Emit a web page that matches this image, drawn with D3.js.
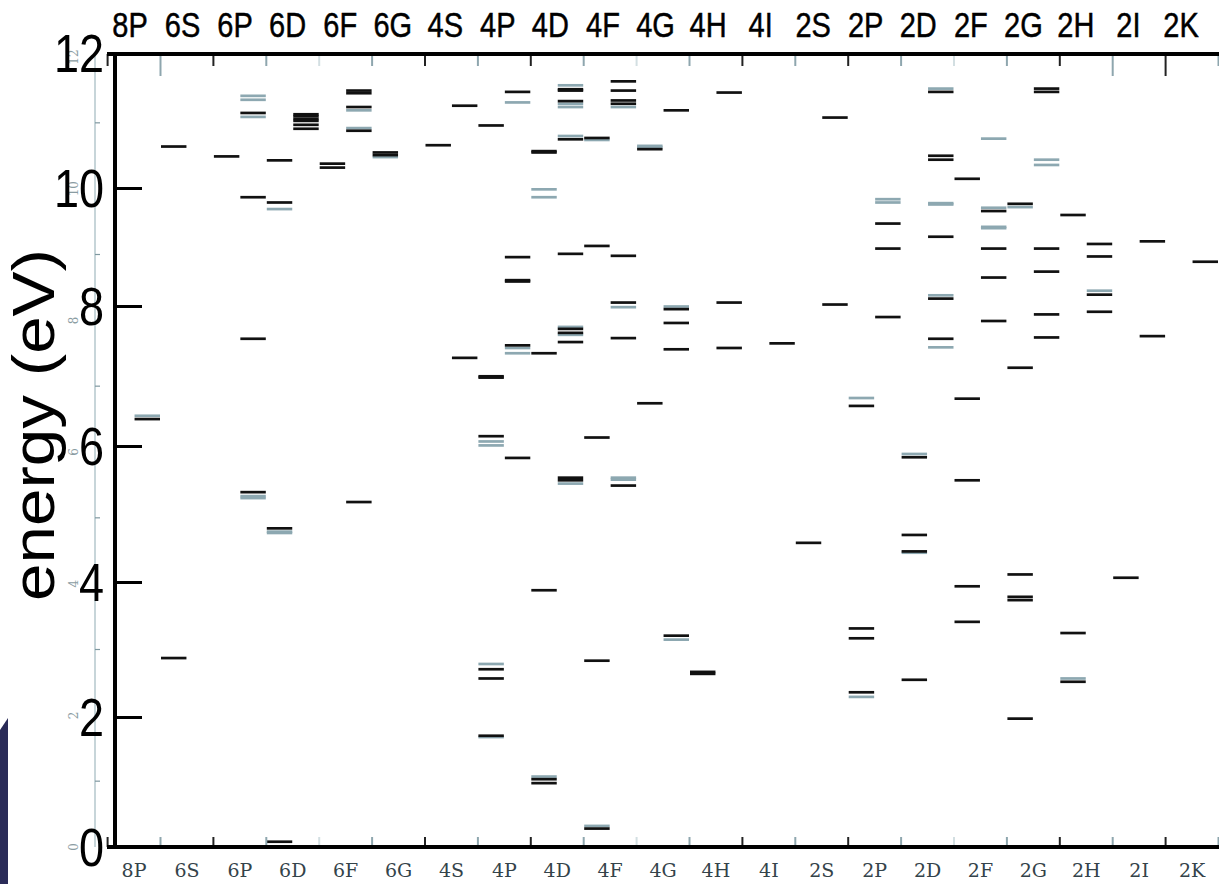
<!DOCTYPE html>
<html>
<head>
<meta charset="utf-8">
<script src="https://cdn.jsdelivr.net/npm/d3@7"></script>
<style>
  body { margin: 0; background: #fff; }
</style>
</head>
<body>
<svg id="chart" width="1219" height="884"></svg>
<script>
const categories = ['8P','6S','6P','6D','6F','6G','4S','4P','4D','4F','4G','4H','4I',
                    '2S','2P','2D','2F','2G','2H','2I','2K']
const energyTicks = [0, 2, 4, 6, 8, 10, 12]

// [term, sub-column, energy eV]  dark levels
const darkLevels = [
  ['8P','R',6.50],
  ['6S','L',10.64], ['6S','L',2.87],
  ['6P','L',10.49],
  ['6P','R',11.15], ['6P','R',9.87], ['6P','R',7.72], ['6P','R',5.39],
  ['6D','L',10.43], ['6D','L',9.79], ['6D','L',4.84], ['6D','L',0.08],
  ['6D','R',11.13], ['6D','R',11.10], ['6D','R',11.06], ['6D','R',11.03], ['6D','R',10.97], ['6D','R',10.91],
  ['6F','L',10.38], ['6F','L',10.32],
  ['6F','R',11.49], ['6F','R',11.45], ['6F','R',11.24], ['6F','R',10.88], ['6F','R',5.24],
  ['6G','L',10.55], ['6G','L',10.51],
  ['4S','L',10.66],
  ['4S','R',11.26], ['4S','R',7.43],
  ['4P','L',10.96], ['4P','L',7.15], ['4P','L',7.13], ['4P','L',6.24], ['4P','L',2.70], ['4P','L',2.56], ['4P','L',1.69],
  ['4P','R',11.47], ['4P','R',8.96], ['4P','R',8.61], ['4P','R',8.59], ['4P','R',7.62], ['4P','R',5.91],
  ['4D','L',10.57], ['4D','L',10.55], ['4D','L',7.50], ['4D','L',3.90], ['4D','L',1.03], ['4D','L',0.97],
  ['4D','R',11.51], ['4D','R',11.49], ['4D','R',11.33], ['4D','R',10.75], ['4D','R',9.01], ['4D','R',7.87],
  ['4D','R',7.81], ['4D','R',7.67], ['4D','R',5.61], ['4D','R',5.57],
  ['4F','L',10.77], ['4F','L',9.13], ['4F','L',6.22], ['4F','L',2.83], ['4F','L',0.28],
  ['4F','R',11.63], ['4F','R',11.49], ['4F','R',11.34], ['4F','R',11.29], ['4F','R',8.98], ['4F','R',8.27],
  ['4F','R',7.73], ['4F','R',5.49],
  ['4G','L',10.60], ['4G','L',6.74],
  ['4G','R',11.19], ['4G','R',8.17], ['4G','R',7.96], ['4G','R',7.56], ['4G','R',3.21],
  ['4H','L',2.66], ['4H','L',2.63],
  ['4H','R',11.46], ['4H','R',8.27], ['4H','R',7.58],
  ['4I','R',7.65],
  ['2S','L',4.62],
  ['2S','R',11.08], ['2S','R',8.24],
  ['2P','L',6.70], ['2P','L',3.32], ['2P','L',3.17], ['2P','L',2.35],
  ['2P','R',9.47], ['2P','R',9.09], ['2P','R',8.05],
  ['2D','L',5.92], ['2D','L',4.74], ['2D','L',4.49], ['2D','L',2.54],
  ['2D','R',11.47], ['2D','R',10.50], ['2D','R',10.44], ['2D','R',9.27], ['2D','R',8.33], ['2D','R',7.72],
  ['2F','L',10.15], ['2F','L',6.81], ['2F','L',5.57], ['2F','L',3.96], ['2F','L',3.42],
  ['2F','R',9.66], ['2F','R',9.09], ['2F','R',8.65], ['2F','R',7.99],
  ['2G','L',9.77], ['2G','L',7.28], ['2G','L',4.14], ['2G','L',3.80], ['2G','L',3.75], ['2G','L',1.95],
  ['2G','R',11.52], ['2G','R',11.47], ['2G','R',9.09], ['2G','R',8.74], ['2G','R',8.09], ['2G','R',7.74],
  ['2H','L',9.60], ['2H','L',3.25], ['2H','L',2.51],
  ['2H','R',9.16], ['2H','R',8.97], ['2H','R',8.39], ['2H','R',8.13],
  ['2I','L',4.09],
  ['2I','R',9.20], ['2I','R',7.76],
  ['2K','R',8.89]
]

// light (grey-blue) levels
const lightLevels = [
  ['8P','R',6.55],
  ['6P','R',11.41], ['6P','R',11.35], ['6P','R',11.09], ['6P','R',5.33], ['6P','R',5.30],
  ['6D','L',9.69], ['6D','L',4.79], ['6D','L',4.77],
  ['6F','R',11.19], ['6F','R',10.92],
  ['6G','L',10.48],
  ['4P','L',6.16], ['4P','L',6.10], ['4P','L',2.78], ['4P','L',1.67],
  ['4P','R',11.31], ['4P','R',7.58], ['4P','R',7.50],
  ['4D','L',9.99], ['4D','L',9.87], ['4D','L',1.07],
  ['4D','R',11.57], ['4D','R',11.29], ['4D','R',11.24], ['4D','R',10.80], ['4D','R',7.90], ['4D','R',7.78], ['4D','R',5.52],
  ['4F','L',10.74], ['4F','L',0.32],
  ['4F','R',11.24], ['4F','R',8.20], ['4F','R',5.61], ['4F','R',5.58],
  ['4G','L',10.65], ['4G','L',10.63],
  ['4G','R',8.21], ['4G','R',3.15],
  ['2P','L',6.82], ['2P','L',2.28],
  ['2P','R',9.84], ['2P','R',9.79],
  ['2D','L',5.97], ['2D','L',4.47],
  ['2D','R',11.52], ['2D','R',9.78], ['2D','R',9.76], ['2D','R',8.38], ['2D','R',7.59],
  ['2F','R',10.76], ['2F','R',9.71], ['2F','R',9.42], ['2F','R',9.40],
  ['2G','L',9.72],
  ['2G','R',10.44], ['2G','R',10.36],
  ['2H','L',2.56],
  ['2H','R',8.45]
]

const width = 1219
const height = 884
const axisX = 115

const svg = d3.select('#chart')

svg.append('rect').attr('width', width).attr('height', height).attr('fill', '#fff')

// dark strip at lower left edge
svg.append('path')
  .attr('d', 'M0,730 L8,718 L8,884 L0,884 Z')
  .attr('fill', '#2a2b58')

// Scales
const xScale = d3.scaleBand()
  .domain(categories)
  .range([107.6, 1218.5])
  .padding(0)

const yScale = d3.scaleLinear()
  .domain([0, 12])
  .range([847, 57])

// overlay axis labels sit on their own (slightly uneven) positions
const yLabelScale = d3.scaleLinear()
  .domain(energyTicks)
  .range([847, 717, 582, 446, 306, 188, 53])

const topScale = d3.scalePoint()
  .domain(categories)
  .range([130, 1181])

const bw = xScale.bandwidth()
const frameTop = yScale(12) - 3
const frameBottom = yScale(0)

// faint original axis
svg.append('line')
  .attr('x1', 95).attr('x2', 95)
  .attr('y1', frameTop).attr('y2', frameBottom)
  .attr('stroke', '#b4c7cd').attr('stroke-width', 1.5)

svg.append('g')
  .selectAll('line')
  .data(d3.range(1, 12, 2))
  .join('line')
  .attr('x1', 95).attr('x2', 100)
  .attr('y1', d => yScale(d)).attr('y2', d => yScale(d))
  .attr('stroke', '#7f98a0').attr('stroke-width', 1.2)

svg.append('g')
  .selectAll('text')
  .data(energyTicks)
  .join('text')
  .attr('transform', d => `translate(74,${yScale(d)}) rotate(-90)`)
  .attr('text-anchor', 'middle')
  .attr('dy', '0.35em')
  .attr('font-family', 'DejaVu Serif, serif')
  .attr('font-size', 12)
  .attr('fill', '#8a9ca2')
  .text(d => d)

// Levels
function levelX(d) {
  return xScale(d[0]) + (d[1] === 'R' ? bw / 2 : 0)
}

svg.append('g')
  .selectAll('line')
  .data(lightLevels)
  .join('line')
  .attr('x1', d => levelX(d) + 0.5)
  .attr('x2', d => levelX(d) + bw / 2 - 0.5)
  .attr('y1', d => yScale(d[2]))
  .attr('y2', d => yScale(d[2]))
  .attr('stroke', '#8da8b1')
  .attr('stroke-width', 2.7)

svg.append('g')
  .selectAll('line')
  .data(darkLevels)
  .join('line')
  .attr('x1', d => levelX(d) + 0.5)
  .attr('x2', d => levelX(d) + bw / 2 - 0.5)
  .attr('y1', d => yScale(d[2]))
  .attr('y2', d => yScale(d[2]))
  .attr('stroke', '#111')
  .attr('stroke-width', 2.7)

// Boundary ticks top and bottom
const bounds = categories.map(c => xScale(c)).concat([xScale.range()[1]])
const tickColor = (d, i) => (i % 6 === 4 ? '#d3dfe2' : i % 2 ? '#8ea6ae' : '#222')

svg.append('g')
  .selectAll('line')
  .data(bounds)
  .join('line')
  .attr('x1', d => d).attr('x2', d => d)
  .attr('y1', frameBottom).attr('y2', frameBottom - 10)
  .attr('stroke', tickColor)
  .attr('stroke-width', 2)

svg.append('g')
  .selectAll('line')
  .data(bounds)
  .join('line')
  .attr('x1', d => d).attr('x2', d => d)
  .attr('y1', frameTop).attr('y2', (d, i) => frameTop + (i === 1 || i === 19 || i === 20 ? 22 : 12))
  .attr('stroke', tickColor)
  .attr('stroke-width', 2)

// Frame
svg.append('line')
  .attr('x1', 107).attr('x2', width)
  .attr('y1', frameTop).attr('y2', frameTop)
  .attr('stroke', '#000').attr('stroke-width', 4)

svg.append('line')
  .attr('x1', 107).attr('x2', width)
  .attr('y1', frameBottom).attr('y2', frameBottom)
  .attr('stroke', '#000').attr('stroke-width', 4)

// Left axis with large labels
const yAxis = d3.axisRight(yLabelScale)
  .tickValues(energyTicks)
  .tickSize(27)
  .tickFormat('')

const yAxisG = svg.append('g')
  .attr('transform', `translate(${axisX},0)`)
  .call(yAxis)
yAxisG.select('.domain').remove()
yAxisG.selectAll('.tick line')
  .attr('stroke', '#000')
  .attr('stroke-width', 3)
  .attr('display', d => (d === 0 || d === 12 ? 'none' : null))

svg.append('line')
  .attr('x1', axisX).attr('x2', axisX)
  .attr('y1', frameTop - 2).attr('y2', frameBottom + 2)
  .attr('stroke', '#000').attr('stroke-width', 4)

svg.append('g')
  .selectAll('text')
  .data(energyTicks)
  .join('text')
  .attr('transform', d => `translate(104,${yLabelScale(d)}) scale(1,1.18)`)
  .attr('dy', '0.36em')
  .attr('text-anchor', 'end')
  .attr('font-family', 'Liberation Sans, Arial, sans-serif')
  .attr('font-size', 45)
  .attr('fill', '#000')
  .text(d => d)

// Axis title
svg.append('text')
  .attr('transform', 'translate(54,425) rotate(-90)')
  .attr('text-anchor', 'middle')
  .attr('font-family', 'Liberation Sans, Arial, sans-serif')
  .attr('font-size', 60)
  .attr('textLength', 352)
  .attr('lengthAdjust', 'spacingAndGlyphs')
  .attr('fill', '#000')
  .text('energy (eV)')

// Top term labels
svg.append('g')
  .selectAll('text')
  .data(categories)
  .join('text')
  .attr('transform', d => `translate(${topScale(d)},37) scale(1,1.2)`)
  .attr('text-anchor', 'middle')
  .attr('font-family', 'Liberation Sans, Arial, sans-serif')
  .attr('font-size', 29)
  .attr('stroke', '#000')
  .attr('stroke-width', 0.4)
  .attr('fill', '#000')
  .text(d => d)

// Bottom term labels
svg.append('g')
  .selectAll('text')
  .data(categories)
  .join('text')
  .attr('x', d => xScale(d) + bw / 2)
  .attr('y', 877)
  .attr('text-anchor', 'middle')
  .attr('font-family', 'DejaVu Serif, serif')
  .attr('font-size', 19)
  .attr('fill', '#34434a')
  .text(d => d)
</script>
</body>
</html>
